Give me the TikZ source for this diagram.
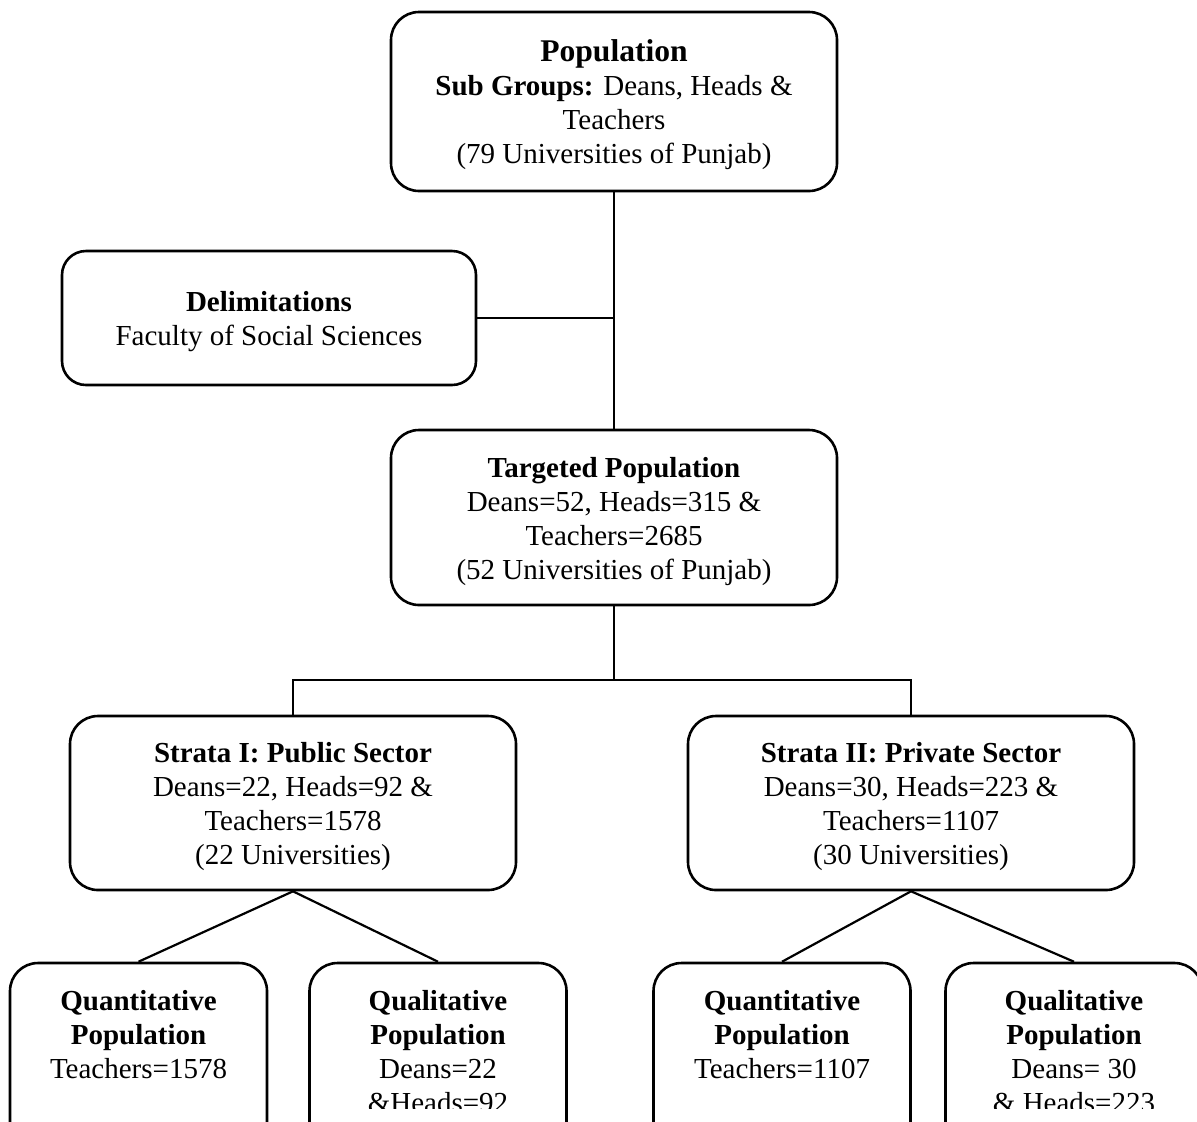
\documentclass[tikz,border=0pt]{standalone}
\usepackage{fontspec}
\setmainfont{Liberation Serif}
\usetikzlibrary{calc}
\newcommand\bodysize{\fontsize{14.5}{17}\selectfont}
\newcommand\titlesize{\fontsize{15.8}{17}\selectfont}
% raises the first line's height so the text block sits a little lower
\newcommand\topgap{\rule{0pt}{14pt}}
\begin{document}
\begin{tikzpicture}[x=0.5pt,y=-0.5pt,
  box/.style={draw, line width=1.3pt, rounded corners=14pt, align=center,
    inner sep=0pt, minimum width=223pt, minimum height=87pt, font=\bodysize},
  leaf/.style={draw, line width=1.3pt, rounded corners=14pt,
    inner sep=0pt, minimum width=128.5pt, minimum height=93.5pt},
  leaftext/.style={align=center, inner sep=0pt, anchor=north, font=\bodysize},
  wire/.style={line width=1.1pt}]

\useasboundingbox (0,0) rectangle (1197,1121);
\fill[white] (0,0) rectangle (1197,1121);
\clip (0,0) rectangle (1197,1121);

% main chain
\node[box, minimum height=89.5pt] (pop) at (614,101.5)
  {\topgap{\titlesize\bfseries Population}\\
   \textbf{Sub Groups:} Deans, Heads \&\\
   Teachers\\
   (79 Universities of Punjab)};

\node[box, minimum width=207pt, minimum height=67pt, rounded corners=12pt]
  (delim) at (269,318)
  {\topgap\textbf{Delimitations}\\ Faculty of Social Sciences};

\node[box, minimum height=87.5pt] (target) at (614,517.5)
  {\topgap\textbf{Targeted Population}\\
   Deans=52, Heads=315 \&\\
   Teachers=2685\\
   (52 Universities of Punjab)};

% strata
\node[box] (s1) at (293,803)
  {\topgap\textbf{Strata I: Public Sector}\\
   Deans=22, Heads=92 \&\\
   Teachers=1578\\
   (22 Universities)};
\node[box] (s2) at (911,803)
  {\topgap\textbf{Strata II: Private Sector}\\
   Deans=30, Heads=223 \&\\
   Teachers=1107\\
   (30 Universities)};

% sub-populations
\node[leaf] (quanA) at (138.5,1056.5) {};
\node[leaf] (qualA) at (438,1056.5) {};
\node[leaf] (quanB) at (782,1056.5) {};
\node[leaf] (qualB) at (1074,1056.5) {};

\begin{scope}
  \clip (0,0) rectangle (1197,1108);
  \node[leaftext] (quanAtxt) at (138.5,990)
    {\textbf{Quantitative}\\ \textbf{Population}\\ Teachers=1578};
  \node[leaftext] (qualAtxt) at (438,990)
    {\textbf{Qualitative}\\ \textbf{Population}\\ Deans=22\\ \&Heads=92};
  \node[leaftext] (quanBtxt) at (782,990)
    {\textbf{Quantitative}\\ \textbf{Population}\\ Teachers=1107};
  \node[leaftext] (qualBtxt) at (1074,990)
    {\textbf{Qualitative}\\ \textbf{Population}\\ Deans= 30\\ \& Heads=223};
\end{scope}

% connectors
\draw[wire] (pop.south) -- (target.north);
\draw[wire] (delim.east) -- (delim.east -| pop.south);
\coordinate (fork) at (614,680);
\draw[wire] (target.south) -- (fork);
\draw[wire] (s1.north) -- (s1.north |- fork) -- (s2.north |- fork) -- (s2.north);
\draw[wire] (quanA.north) -- (s1.south) -- (qualA.north);
\draw[wire] (quanB.north) -- (s2.south) -- (qualB.north);
\end{tikzpicture}
\end{document}
